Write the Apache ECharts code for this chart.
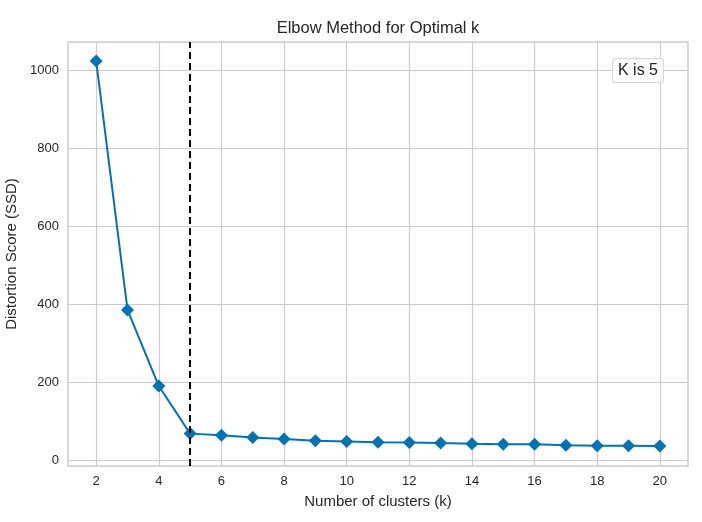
<!DOCTYPE html>
<html>
<head>
<meta charset="utf-8">
<script src="https://cdn.jsdelivr.net/npm/echarts@6/dist/echarts.min.js"></script>
<style>
  html, body { margin: 0; padding: 0; background: #fff; }
  #chart { width: 702px; height: 522px; }
</style>
</head>
<body>
<div id="chart"></div>
<script>
// data
var kValues = [2, 3, 4, 5, 6, 7, 8, 9, 10, 11, 12, 13, 14, 15, 16, 17, 18, 19, 20];
var distortion = [1023, 385, 190, 68, 64, 58, 54, 50, 48, 46, 45, 44, 42, 41, 41, 38, 37, 37, 36];
var xTicks = [2, 4, 6, 8, 10, 12, 14, 16, 18, 20];
var yTicks = [0, 200, 400, 600, 800, 1000];
var elbowK = 5;
var legendText = 'K is 5';

var textColor = '#262626';
var gridColor = '#cccccc';
var lineColor = '#0173b2';
var font = 'Liberation Sans';

var chart = echarts.init(document.getElementById('chart'));
var points = [];
for (var i = 0; i < kValues.length; i++) {
    points.push([kValues[i], distortion[i]]);
}

var option = {
    backgroundColor: '#fff',
    animation: false,
    graphic: [{
        // title centred over the plot area, like matplotlib does
        type: 'text',
        x: 378,
        y: 20,
        style: {
            text: 'Elbow Method for Optimal k',
            align: 'center',
            fontFamily: font,
            fontSize: 16.5,
            fill: textColor
        }
    }, {
        type: 'text',
        right: 38,
        top: 58,
        style: {
            text: legendText,
            fontFamily: font,
            fontSize: 16,
            fill: textColor,
            backgroundColor: 'rgba(255,255,255,0.8)',
            borderColor: '#d8d8d8',
            borderWidth: 1,
            borderRadius: 2,
            padding: [4, 5, 3, 5]
        },
        z: 100
    }],
    grid: {
        left: 68, right: 14, top: 42, bottom: 56,
        outerBoundsMode: 'none',
        containLabel: false,
        show: true,
        borderColor: gridColor,
        borderWidth: 1.5
    },
    xAxis: {
        type: 'value',
        min: 1.1,
        max: 20.9,
        name: 'Number of clusters (k)',
        nameLocation: 'middle',
        nameGap: 28,
        nameTextStyle: { fontFamily: font, fontSize: 15, color: textColor },
        axisLine: { show: false },
        axisTick: { show: false, customValues: xTicks },
        axisLabel: {
            customValues: xTicks,
            margin: 9,
            fontFamily: font, fontSize: 13, color: textColor
        },
        splitLine: { show: true, lineStyle: { color: gridColor, width: 1.2 } }
    },
    yAxis: {
        type: 'value',
        min: -15,
        max: 1072,
        name: 'Distortion Score (SSD)',
        nameLocation: 'middle',
        nameGap: 47,
        nameTextStyle: { fontFamily: font, fontSize: 15, color: textColor },
        axisLine: { show: false },
        axisTick: { show: false, customValues: yTicks },
        axisLabel: {
            customValues: yTicks,
            formatter: function (v) { return String(v); },
            margin: 9,
            fontFamily: font, fontSize: 13, color: textColor
        },
        splitLine: { show: true, lineStyle: { color: gridColor, width: 1.2 } }
    },
    series: [{
        type: 'line',
        data: points,
        symbol: 'diamond',
        symbolSize: 13,
        showAllSymbol: true,
        lineStyle: { color: lineColor, width: 2 },
        itemStyle: { color: lineColor },
        markLine: {
            silent: true,
            symbol: 'none',
            label: { show: false },
            lineStyle: { color: '#000', type: [7, 4], width: 2 },
            data: [{ xAxis: elbowK }]
        }
    }]
};

chart.setOption(option);
</script>
</body>
</html>
